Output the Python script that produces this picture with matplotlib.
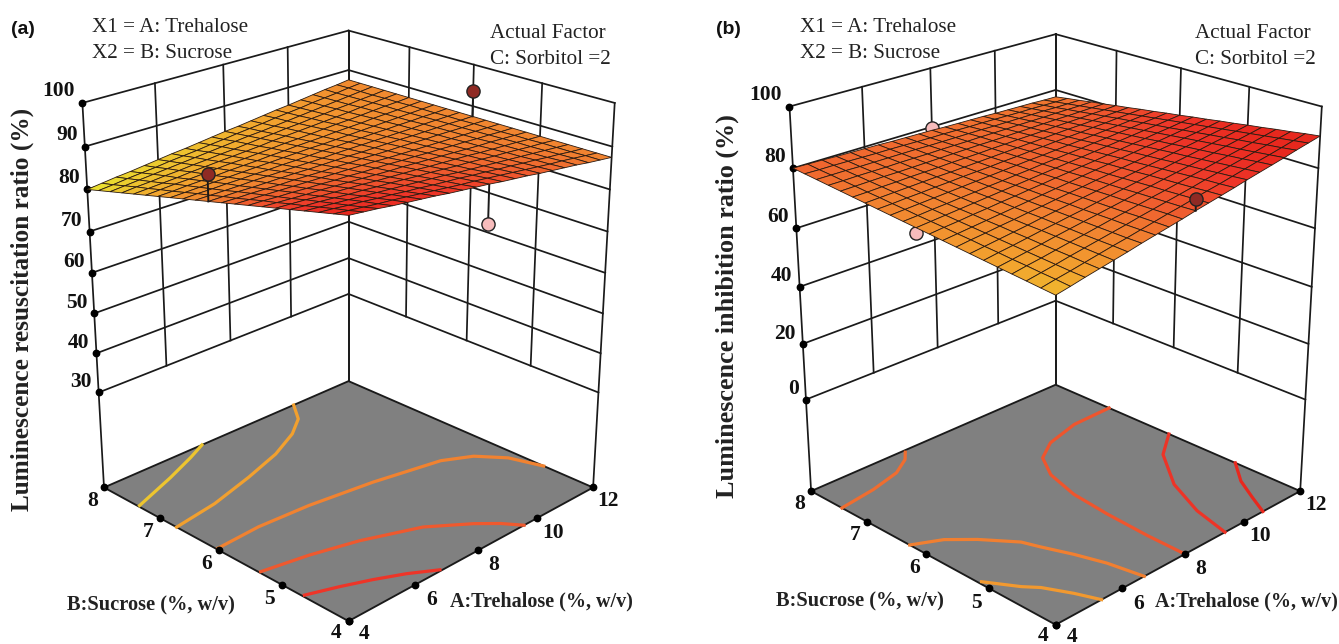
import numpy as np
import matplotlib
matplotlib.use("Agg")
import matplotlib.pyplot as plt
from matplotlib.colors import LinearSegmentedColormap, Normalize
from mpl_toolkits.mplot3d import proj3d

trehalose = [4+0.4*i for i in range(21)]
sucrose = [4+0.2*i for i in range(21)]
A_TICKS = [4, 6, 8, 10, 12]
B_TICKS = [4, 5, 6, 7, 8]
Z_TICKS_A = [30, 40, 50, 60, 70, 80, 90, 100]
Z_TICKS_B = [0, 20, 40, 60, 80, 100]

# rows: sucrose 4..8, columns: trehalose 4..12
surface_a = [
[96.0,95.6,95.2,94.7,94.3,93.9,93.5,93.0,92.6,92.2,91.8,91.3,90.9,90.5,90.0,89.6,89.2,88.8,88.3,87.9,87.5],
[95.2,94.8,94.4,94.0,93.7,93.3,92.9,92.5,92.1,91.7,91.4,91.0,90.6,90.2,89.8,89.4,89.0,88.7,88.3,87.9,87.5],
[94.4,94.1,93.7,93.4,93.0,92.7,92.3,92.0,91.6,91.3,91.0,90.6,90.3,89.9,89.6,89.2,88.9,88.5,88.2,87.8,87.5],
[93.6,93.3,93.0,92.7,92.4,92.1,91.8,91.5,91.2,90.9,90.6,90.2,89.9,89.6,89.3,89.0,88.7,88.4,88.1,87.8,87.5],
[92.8,92.5,92.3,92.0,91.7,91.5,91.2,91.0,90.7,90.4,90.2,89.9,89.6,89.4,89.1,88.8,88.6,88.3,88.0,87.8,87.5],
[92.0,91.8,91.6,91.3,91.1,90.9,90.7,90.4,90.2,90.0,89.8,89.5,89.3,89.1,88.9,88.6,88.4,88.2,88.0,87.7,87.5],
[91.2,91.0,90.8,90.6,90.5,90.3,90.1,89.9,89.7,89.5,89.4,89.2,89.0,88.8,88.6,88.4,88.2,88.1,87.9,87.7,87.5],
[90.4,90.3,90.1,90.0,89.8,89.7,89.5,89.4,89.2,89.1,89.0,88.8,88.7,88.5,88.4,88.2,88.1,87.9,87.8,87.6,87.5],
[89.6,89.5,89.4,89.3,89.2,89.1,89.0,88.9,88.8,88.7,88.6,88.4,88.3,88.2,88.1,88.0,87.9,87.8,87.7,87.6,87.5],
[88.8,88.7,88.7,88.6,88.5,88.5,88.4,88.3,88.3,88.2,88.2,88.1,88.0,88.0,87.9,87.8,87.8,87.7,87.6,87.6,87.5],
[88.0,88.0,88.0,87.9,87.9,87.9,87.9,87.8,87.8,87.8,87.8,87.7,87.7,87.7,87.7,87.6,87.6,87.6,87.6,87.5,87.5],
[87.2,87.2,87.2,87.2,87.3,87.3,87.3,87.3,87.3,87.3,87.4,87.4,87.4,87.4,87.4,87.4,87.4,87.5,87.5,87.5,87.5],
[86.4,86.5,86.5,86.6,86.6,86.7,86.7,86.8,86.8,86.9,87.0,87.0,87.1,87.1,87.2,87.2,87.3,87.3,87.4,87.4,87.5],
[85.6,85.7,85.8,85.9,86.0,86.1,86.2,86.3,86.4,86.5,86.6,86.6,86.7,86.8,86.9,87.0,87.1,87.2,87.3,87.4,87.5],
[84.8,84.9,85.1,85.2,85.3,85.5,85.6,85.7,85.9,86.0,86.2,86.3,86.4,86.6,86.7,86.8,87.0,87.1,87.2,87.4,87.5],
[84.0,84.2,84.4,84.5,84.7,84.9,85.1,85.2,85.4,85.6,85.8,85.9,86.1,86.3,86.5,86.6,86.8,87.0,87.2,87.3,87.5],
[83.2,83.4,83.6,83.8,84.1,84.3,84.5,84.7,84.9,85.1,85.4,85.6,85.8,86.0,86.2,86.4,86.6,86.9,87.1,87.3,87.5],
[82.4,82.7,82.9,83.2,83.4,83.7,83.9,84.2,84.4,84.7,85.0,85.2,85.5,85.7,86.0,86.2,86.5,86.7,87.0,87.2,87.5],
[81.6,81.9,82.2,82.5,82.8,83.1,83.4,83.7,84.0,84.3,84.6,84.8,85.1,85.4,85.7,86.0,86.3,86.6,86.9,87.2,87.5],
[80.8,81.1,81.5,81.8,82.1,82.5,82.8,83.1,83.5,83.8,84.2,84.5,84.8,85.2,85.5,85.8,86.2,86.5,86.8,87.2,87.5],
[80.0,80.4,80.8,81.1,81.5,81.9,82.3,82.6,83.0,83.4,83.8,84.1,84.5,84.9,85.3,85.6,86.0,86.4,86.8,87.1,87.5],
]
surface_b = [
[72.0,72.9,73.9,74.8,75.7,76.6,77.6,78.5,79.4,80.3,81.3,82.2,83.1,84.0,85.0,85.9,86.8,87.7,88.7,89.6,90.5],
[72.4,73.3,74.1,75.0,75.9,76.8,77.6,78.5,79.4,80.3,81.1,82.0,82.9,83.7,84.6,85.5,86.4,87.2,88.1,89.0,89.9],
[72.8,73.6,74.4,75.3,76.1,76.9,77.7,78.5,79.4,80.2,81.0,81.8,82.6,83.5,84.3,85.1,85.9,86.7,87.6,88.4,89.2],
[73.2,74.0,74.7,75.5,76.3,77.0,77.8,78.6,79.3,80.1,80.9,81.6,82.4,83.2,83.9,84.7,85.5,86.2,87.0,87.8,88.6],
[73.6,74.3,75.0,75.7,76.5,77.2,77.9,78.6,79.3,80.0,80.8,81.5,82.2,82.9,83.6,84.3,85.0,85.8,86.5,87.2,87.9],
[74.0,74.7,75.3,76.0,76.7,77.3,78.0,78.6,79.3,80.0,80.6,81.3,82.0,82.6,83.3,83.9,84.6,85.3,85.9,86.6,87.3],
[74.4,75.0,75.6,76.2,76.8,77.5,78.1,78.7,79.3,79.9,80.5,81.1,81.7,82.3,82.9,83.6,84.2,84.8,85.4,86.0,86.6],
[74.8,75.4,75.9,76.5,77.0,77.6,78.1,78.7,79.3,79.8,80.4,80.9,81.5,82.0,82.6,83.2,83.7,84.3,84.8,85.4,86.0],
[75.2,75.7,76.2,76.7,77.2,77.7,78.2,78.7,79.2,79.7,80.3,80.8,81.3,81.8,82.3,82.8,83.3,83.8,84.3,84.8,85.3],
[75.6,76.1,76.5,77.0,77.4,77.9,78.3,78.8,79.2,79.7,80.1,80.6,81.0,81.5,81.9,82.4,82.8,83.3,83.7,84.2,84.7],
[76.0,76.4,76.8,77.2,77.6,78.0,78.4,78.8,79.2,79.6,80.0,80.4,80.8,81.2,81.6,82.0,82.4,82.8,83.2,83.6,84.0],
[76.4,76.7,77.1,77.4,77.8,78.1,78.5,78.8,79.2,79.5,79.9,80.2,80.6,80.9,81.3,81.6,82.0,82.3,82.7,83.0,83.4],
[76.8,77.1,77.4,77.7,78.0,78.3,78.6,78.9,79.2,79.5,79.8,80.0,80.3,80.6,80.9,81.2,81.5,81.8,82.1,82.4,82.7],
[77.2,77.4,77.7,77.9,78.2,78.4,78.7,78.9,79.1,79.4,79.6,79.9,80.1,80.4,80.6,80.8,81.1,81.3,81.6,81.8,82.1],
[77.6,77.8,78.0,78.2,78.4,78.6,78.7,78.9,79.1,79.3,79.5,79.7,79.9,80.1,80.3,80.5,80.6,80.8,81.0,81.2,81.4],
[78.0,78.1,78.3,78.4,78.6,78.7,78.8,79.0,79.1,79.2,79.4,79.5,79.7,79.8,79.9,80.1,80.2,80.3,80.5,80.6,80.8],
[78.4,78.5,78.6,78.7,78.7,78.8,78.9,79.0,79.1,79.2,79.3,79.3,79.4,79.5,79.6,79.7,79.8,79.8,79.9,80.0,80.1],
[78.8,78.8,78.9,78.9,78.9,79.0,79.0,79.0,79.1,79.1,79.1,79.2,79.2,79.2,79.3,79.3,79.3,79.4,79.4,79.4,79.5],
[79.2,79.2,79.2,79.1,79.1,79.1,79.1,79.1,79.0,79.0,79.0,79.0,79.0,78.9,78.9,78.9,78.9,78.9,78.8,78.8,78.8],
[79.6,79.5,79.5,79.4,79.3,79.2,79.2,79.1,79.0,78.9,78.9,78.8,78.7,78.7,78.6,78.5,78.4,78.4,78.3,78.2,78.2],
[80.0,79.9,79.8,79.6,79.5,79.4,79.3,79.1,79.0,78.9,78.8,78.6,78.5,78.4,78.3,78.1,78.0,77.9,77.8,77.6,77.5],
]

# floor contours: (level, trehalose, sucrose)
contours_a = [
 (82.5, [4.04,5.4,6.38,7.0], [7.38,7.64,7.85,8.0]),
 (85.2, [4.0,5.31,6.7,7.94,8.94,9.6,10.05], [6.71,6.81,7.0,7.2,7.44,7.68,8.0]),
 (88.0, [4.04,5.3,6.77,8.58,10.48,11.2,11.72,12.0], [6.04,6.07,6.02,5.89,5.69,5.49,5.17,4.74]),
 (90.6, [4.04,5.25,6.46,7.89,8.8,9.23,9.54], [5.35,5.23,5.06,4.77,4.42,4.21,4.0]),
 (93.3, [4.05,4.8,5.5,6.18,6.81], [4.68,4.54,4.39,4.22,4.02]),
]
contours_b = [
 (79.0, [4.0,5.07,5.98,6.56,6.81], [7.44,7.52,7.64,7.82,7.96]),
 (81.0, [12.0,10.73,9.62,8.94,8.48,8.19,8.07,8.0,7.99], [7.05,7.04,6.9,6.69,6.32,5.8,5.21,4.56,4.0]),
 (84.3, [12.0,11.1,10.18,9.62,9.33], [6.04,5.73,5.14,4.54,4.0]),
 (87.4, [12.0,11.4,10.98,10.65], [4.98,4.64,4.29,4.0]),
 (77.5, [4.0,4.69,5.22,5.82,5.98,6.27,6.51,6.68], [6.27,6.09,5.83,5.45,5.22,4.85,4.47,4.0]),
 (74.5, [4.07,4.53,4.8,5.13,5.36], [5.15,4.78,4.62,4.29,4.0]),
]

# design points: trehalose, sucrose, actual, predicted, above surface?
points_a = [(4, 6, 94.0, 88.0, True), (12, 6, 93.6, 87.5, True), (8, 4, 83.0, 91.8, False)]
points_b = [(8, 4, 85.0, 81.3, True), (4, 6, 74.5, 76.0, False), (8, 8, 79.5, 79.0, False)]

cmap = LinearSegmentedColormap.from_list("ry", [
    (0.0, "#e8e830"), (0.31, "#f2a32e"), (0.5, "#f18230"),
    (0.66, "#ef5a2e"), (0.83, "#ee3528"), (1.0, "#e8281e")])

SERIF = "Liberation Serif"
S = 640
W, H = 1339, 644
fig = plt.figure(figsize=(W/100, H/100), dpi=100, facecolor="white")


def panel(left, bottom, focal, floor, zticks, table, contours, points, norm, zpx):
    ax = fig.add_axes([left/W, (H-bottom)/H, S/W, S/H], projection="3d")
    ax.computed_zorder = False
    ax.set_proj_type("persp", focal_length=focal)
    ax.view_init(elev=23.5, azim=-135)
    asp = np.array([1.042, 1.042, 1.21])
    ax.set_box_aspect(asp, zoom=np.linalg.norm(asp)/(1.8294640721620434*25/24))
    ax.set_xlim(4, 12); ax.set_ylim(4, 8); ax.set_zlim(floor, 100)
    ax.set_axis_off()
    ax.patch.set_alpha(0)
    lw, k = 1.25, "#1a1a1a"
    zmin = zticks[0]
    # walls
    for z in zticks:
        ax.plot([4, 12], [8, 8], [z, z], color=k, lw=lw, zorder=1)
        ax.plot([12, 12], [8, 4], [z, z], color=k, lw=lw, zorder=1)
    for a in A_TICKS:
        ax.plot([a, a], [8, 8], [floor if a == 4 or a == 12 else zmin, 100], color=k, lw=lw, zorder=1)
    for b in B_TICKS:
        ax.plot([12, 12], [b, b], [floor if b == 4 or b == 8 else zmin, 100], color=k, lw=lw, zorder=1)
    # floor
    FX, FY = np.meshgrid([4, 12], [4, 8])
    ax.plot_surface(FX, FY, np.full(FX.shape, float(floor)), color="#808080", shade=False,
                    linewidth=0, zorder=2)
    ax.plot([4, 12, 12, 4, 4], [4, 4, 8, 8, 4], [floor]*5, color=k, lw=lw+0.1, zorder=3)
    for level, xs, ys in contours:
        ax.plot(xs, ys, [floor]*len(xs), color=cmap(norm(level)), lw=2.3, zorder=4)
    ax.plot(A_TICKS, [4]*5, [floor]*5, ls="", marker="o", ms=4.6, color="k", zorder=5)
    ax.plot([4]*5, B_TICKS, [floor]*5, ls="", marker="o", ms=4.6, color="k", zorder=5)
    ax.plot([4]*len(zticks), [8]*len(zticks), zticks, ls="", marker="o", ms=4.6, color="k", zorder=5)
    # hidden design points first, then surface, then visible ones
    for a, b, actual, pred, above in points:
        if not above:
            ax.plot([a, a], [b, b], [actual, pred], color=k, lw=1.4, zorder=6)
            ax.plot([a], [b], [actual], marker="o", ms=9.5, mfc="#f7bcbc", mec="#222222", mew=1.0, zorder=6)
    X, Y = np.meshgrid(trehalose, sucrose)
    Z = np.array(table)
    ax.plot_surface(X, Y, Z, rstride=1, cstride=1, facecolors=cmap(norm(Z)), shade=False,
                    edgecolor="#2a1a10", linewidth=0.6, antialiased=True, zorder=7)
    for a, b, actual, pred, above in points:
        if above:
            ax.plot([a, a], [b, b], [pred, actual], color=k, lw=1.4, zorder=8)
            ax.plot([a], [b], [actual], marker="o", ms=9.5, mfc="#8f2a24", mec="#222222", mew=1.0, zorder=8)

    # tick labels: project the 3D anchor, then place ordinary text in the axes
    font = dict(family=SERIF, weight="bold", fontsize=15.5, color="#111111", zorder=9, clip_on=False)
    M = ax.get_proj()

    def label(x, y, z, s, ha):
        xp, yp, _ = proj3d.proj_transform(x, y, z, M)
        ax.text2D(xp, yp, s, transform=ax.transData, ha=ha, va="center", **font)

    for z in zticks:
        label(4-0.1, 8+0.05, z+11/zpx, str(z), "right")
    for b in B_TICKS:
        label(4-0.35, b, floor-(9 if b > 4 else 5)/zpx, str(b), "center")
    for a in A_TICKS:
        label(a, 4-0.23, floor-(8 if a > 4 else 4)/zpx, str(a), "center")
    return ax


panel(19.9, 632, 0.57, 5, Z_TICKS_A, surface_a, contours_a, points_a, Normalize(80, 96), 4.2)
panel(727, 635.6, 0.57, -34, Z_TICKS_B, surface_b, contours_b, points_b, Normalize(67, 87.5), 3.0)


def T(x, y, s, **kw):
    fig.text(x/W, 1-y/H, s, **kw)


note = dict(family=SERIF, fontsize=15.2, color="#222222", va="center", ha="left")
title = dict(family=SERIF, weight="bold", color="#222222", va="center", ha="center")
tag = dict(family="Liberation Sans", weight="bold", fontsize=14, color="#111111", va="center", ha="left")
for dx, letter, ylab, ylab_size, xa, xb, ya, ya_x, yb_x in [
    (0, "(a)", "Luminescence resuscitation ratio (%)", 18.2, 541, 150.5, 309, 601, 605),
    (705, "(b)", "Luminescence inhibition ratio (%)", 18.8, 1246, 860, 306, 601, 601),
]:
    extra = 3 if letter == "(b)" else 0
    T(11+dx, 29, letter, **tag)
    T(92+dx+extra, 27, "X1 = A: Trehalose", **note)
    T(92+dx+extra, 53, "X2 = B: Sucrose", **note)
    T(490+dx, 33, "Actual Factor", **note)
    T(490+dx, 59, "C: Sorbitol =2", **note)
    T(22+dx, ya, ylab, rotation=90, fontsize=ylab_size, **title)
    T(xa, ya_x, "A:Trehalose (%, w/v)", fontsize=14.5, **title)
    T(xb, yb_x, "B:Sucrose (%, w/v)", fontsize=14.7, **title)

fig.savefig("out.png", dpi=100)
